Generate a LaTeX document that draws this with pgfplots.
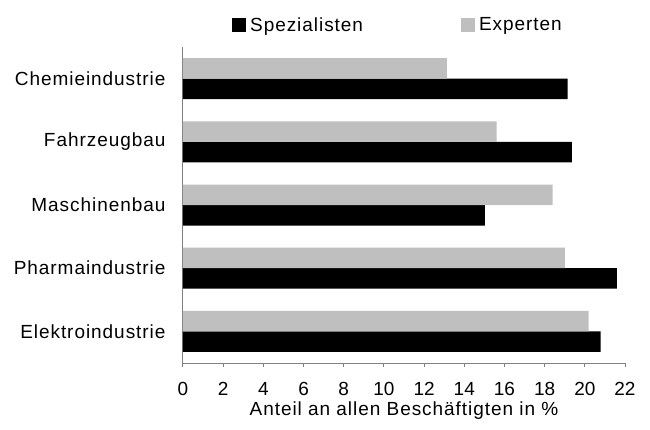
\documentclass[border=0pt]{standalone}
\usepackage{fontspec}
\setmainfont{Liberation Sans}
\newfontfamily\lsfont[LetterSpace=5]{Liberation Sans}
\usepackage{pgfplots}
\pgfplotsset{compat=1.18}
\definecolor{expgrey}{RGB}{191,191,191}
\definecolor{axgrey}{RGB}{128,128,128}

\newcommand{\chartfont}{\fontsize{19}{22}\selectfont\lsfont}
\newcommand{\numfont}{\fontsize{19}{22}\selectfont}

\begin{document}
\begin{tikzpicture}
  \begin{axis}[
      name=ax,
      at={(0,0)}, anchor=south west,
      xbar,
      scale only axis,
      width=442pt, height=316pt,
      xmin=0, xmax=22,
      ymin=-0.5, ymax=4.5,
      y dir=reverse,
      xtick distance=2,
      ytick={0,1,2,3,4},
      yticklabels={Chemieindustrie, Fahrzeugbau, Maschinenbau, Pharmaindustrie, Elektroindustrie},
      axis lines*=left,
      axis line style={axgrey, line width=1pt},
      tick align=outside,
      major tick length=4pt,
      xtick style={axgrey, line width=1pt},
      ytick style={draw=none},
      /pgf/number format/assume math mode=true,
      xticklabel style={font=\numfont, yshift=-12pt},
      yticklabel style={font=\chartfont, xshift=-10pt},
      xlabel={Anteil an allen Beschäftigten in \%},
      xlabel style={font=\chartfont, yshift=1pt},
      bar width=20.5pt,
      legend columns=2,
      legend style={draw=none, fill=none, font=\chartfont, at={(0.104,1.07)}, anchor=west,
        /tikz/every odd column/.append style={column sep=2pt},
        /tikz/every even column/.append style={column sep=96pt}},
      legend image code/.code={\fill (0pt,-7pt) rectangle (14pt,7pt);},
      ]
      \addplot [fill=black, draw=none, bar shift=-10.25pt] coordinates {
          (19.15,0) (19.36,1) (15.02,2) (21.59,3) (20.79,4)
      };
      \addlegendentry{Spezialisten}
      \addplot [fill=expgrey, draw=none, bar shift=10.25pt] coordinates {
          (13.13,0) (15.61,1) (18.40,2) (19.01,3) (20.19,4)
      };
      \addlegendentry{Experten}
  \end{axis}
  \pgfresetboundingbox
  \path (-183pt,-67pt) rectangle (467pt,363pt);
\end{tikzpicture}
\end{document}
